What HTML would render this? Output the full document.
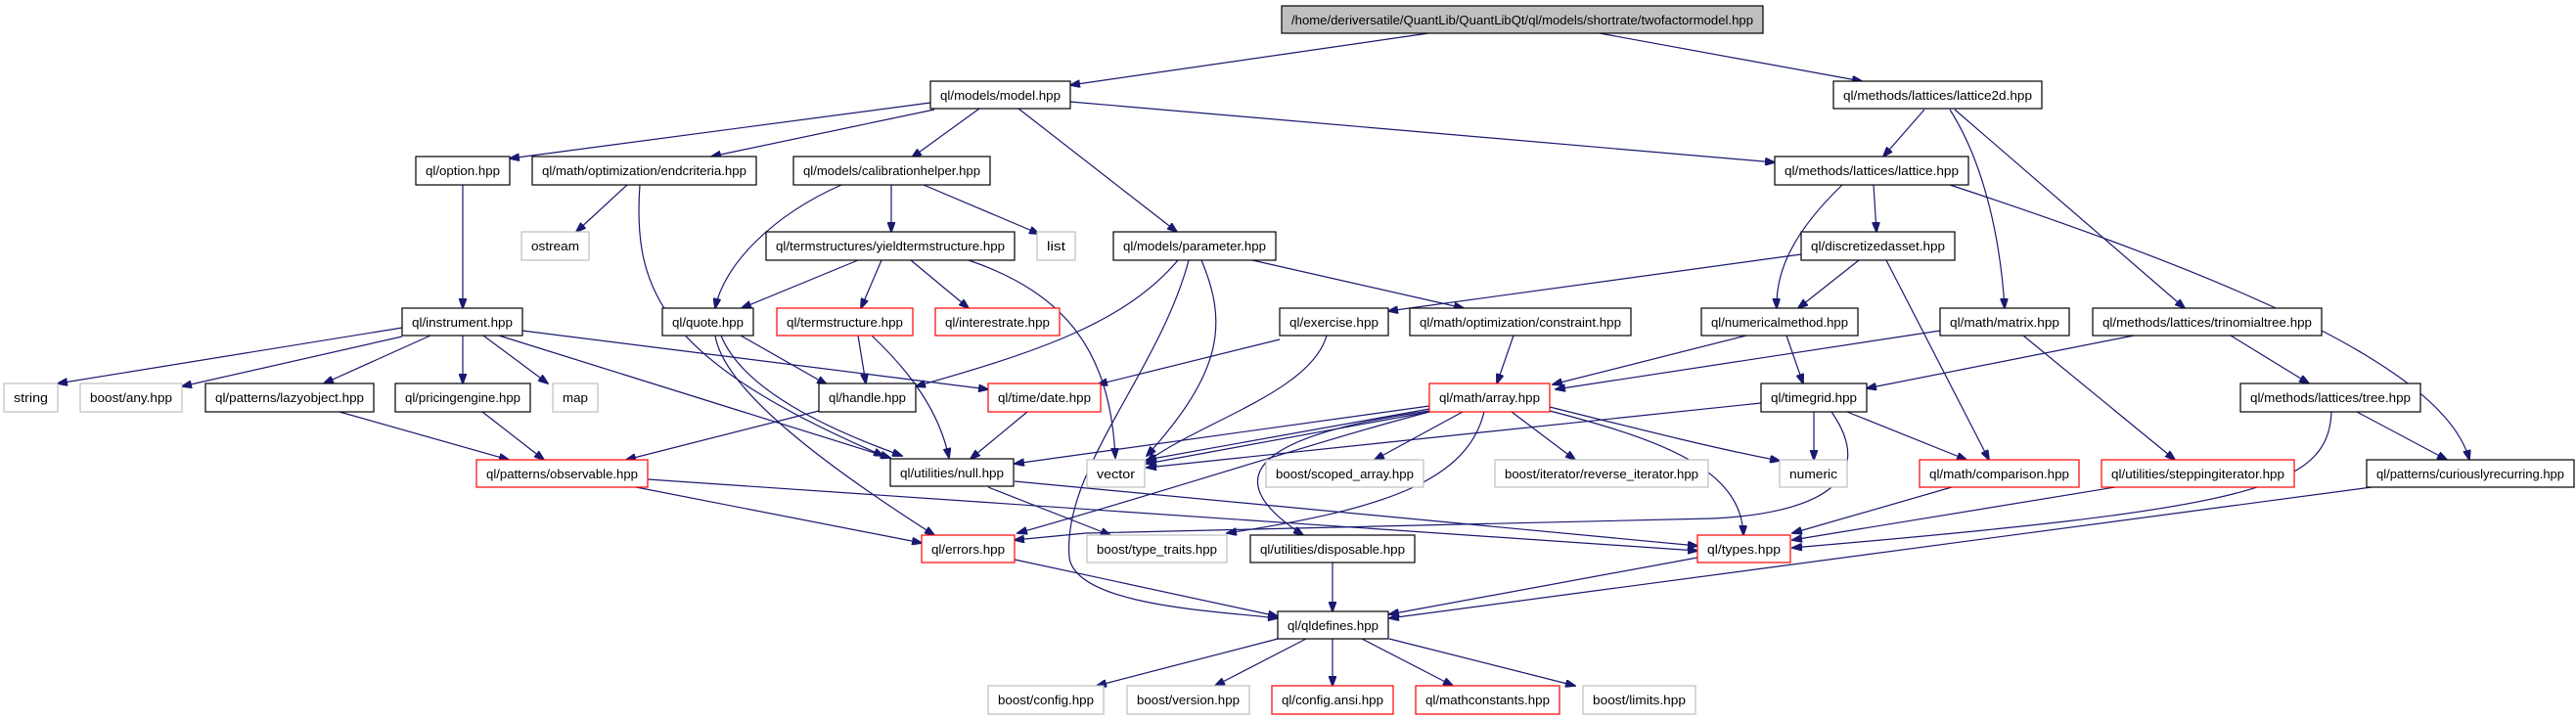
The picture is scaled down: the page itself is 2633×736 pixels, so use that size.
<!DOCTYPE html>
<html><head><meta charset="utf-8"><style>
html,body{margin:0;padding:0;background:#fff;}
svg{display:block;}
text{font-family:"Liberation Sans",Arial,sans-serif;font-size:13px;fill:#000;}
.e{fill:none;stroke:#191970;stroke-width:1.2;}
.n{fill:#fff;stroke:#000;stroke-width:1.2;}
.r{fill:#fff;stroke:#ff0000;stroke-width:1.2;}
.g{fill:#fff;stroke:#bfbfbf;stroke-width:1.2;}
</style></head><body>
<svg width="2633" height="736" viewBox="0 0 2633 736" xmlns="http://www.w3.org/2000/svg">
<defs><marker id="a" markerWidth="11" markerHeight="8" refX="10" refY="4" orient="auto" markerUnits="userSpaceOnUse"><path d="M0,0L11,4L0,8z" fill="#191970" stroke="#191970"/></marker></defs>
<g class="e" marker-end="url(#a)">
<path d="M1460,34L1094,87"/>
<path d="M1635,34L1903,83"/>
<path d="M951,105L521,162"/>
<path d="M955,112L727,160"/>
<path d="M1001,111L932,161"/>
<path d="M1041,111L1203,237"/>
<path d="M1094,104L1814,166"/>
<path d="M1967,112L1925,160"/>
<path d="M1993,112C2030,170 2045,250 2049,315"/>
<path d="M1998,112L2233,315"/>
<path d="M473,189L473,315"/>
<path d="M641,189L589,237"/>
<path d="M654,189C646,300 680,370 903,466"/>
<path d="M860,189C790,220 740,270 731,315"/>
<path d="M911,189L911,237"/>
<path d="M944,189L1062,239"/>
<path d="M877,266L758,315"/>
<path d="M901,266L880,315"/>
<path d="M931,266L990,315"/>
<path d="M990,266C1090,300 1135,360 1140,468"/>
<path d="M1204,266C1150,330 1060,360 936,395"/>
<path d="M1228,266C1255,330 1250,380 1172,466"/>
<path d="M1215,266C1185,380 1085,480 1093,570C1100,620 1250,625 1306,632"/>
<path d="M1280,266L1496,315"/>
<path d="M757,343L845,393"/>
<path d="M731,343C740,400 850,480 955,547"/>
<path d="M737,343C760,400 850,440 922,466"/>
<path d="M837,420L640,470"/>
<path d="M877,343L885,392"/>
<path d="M891,343C930,380 960,420 970,468"/>
<path d="M411,335L59,392"/>
<path d="M411,344L186,395"/>
<path d="M440,343L331,392"/>
<path d="M473,343L473,392"/>
<path d="M494,343L560,392"/>
<path d="M510,343L910,468"/>
<path d="M534,338L1010,398"/>
<path d="M347,421L520,470"/>
<path d="M493,421L556,470"/>
<path d="M662,490L1735,563"/>
<path d="M650,498L942,555"/>
<path d="M1050,421L992,469"/>
<path d="M1308,347L1122,393"/>
<path d="M1356,343C1340,400 1230,430 1172,472"/>
<path d="M1841,260L1419,318"/>
<path d="M1900,266L1838,315"/>
<path d="M1928,266L2033,470"/>
<path d="M1883,189C1830,240 1815,280 1816,315"/>
<path d="M1915,189L1918,237"/>
<path d="M1993,189C2300,290 2500,380 2524,470"/>
<path d="M1547,343L1530,392"/>
<path d="M1785,343L1587,393"/>
<path d="M1826,343L1843,392"/>
<path d="M1983,338L1590,398"/>
<path d="M2068,343L2223,470"/>
<path d="M2181,343L1908,397"/>
<path d="M2280,343L2360,392"/>
<path d="M1800,412L1172,478"/>
<path d="M1854,421L1854,470"/>
<path d="M1888,421L2010,470"/>
<path d="M1872,421C1920,490 1860,525 1750,530L1110,545L1037,552"/>
<path d="M2409,421L2501,470"/>
<path d="M2383,421C2380,500 2300,520 1832,560"/>
<path d="M2424,498L1420,632"/>
<path d="M1995,498L1832,545"/>
<path d="M2162,498L1832,552"/>
<path d="M1461,415L1037,474"/>
<path d="M1461,418L1172,470"/>
<path d="M1461,421L1172,474"/>
<path d="M1495,421L1405,470"/>
<path d="M1545,421L1610,470"/>
<path d="M1584,416C1680,440 1760,460 1819,471"/>
<path d="M1584,420C1700,450 1780,480 1782,547"/>
<path d="M1461,421C1350,450 1200,500 1040,545"/>
<path d="M1461,420C1250,450 1260,500 1332,547"/>
<path d="M1517,421C1500,490 1420,520 1254,545"/>
<path d="M1306,653L1121,701"/>
<path d="M1335,653L1242,701"/>
<path d="M1362,653L1362,701"/>
<path d="M1392,653L1485,701"/>
<path d="M1420,653L1610,701"/>
<path d="M1037,572L1306,630"/>
<path d="M1362,575L1362,625"/>
<path d="M1735,570L1420,628"/>
<path d="M1010,498L1135,547"/>
<path d="M1037,492L1735,558"/>
</g>
<g text-anchor="middle">
<rect x="1310" y="6" width="492" height="28" fill="#bfbfbf" stroke="#000" stroke-width="1.2"/><text x="1556" y="25" textLength="472" lengthAdjust="spacingAndGlyphs">/home/deriversatile/QuantLib/QuantLibQt/ql/models/shortrate/twofactormodel.hpp</text>
<rect class="n" x="951" y="83" width="143" height="28"/><text x="1022.5" y="102" textLength="123" lengthAdjust="spacingAndGlyphs">ql/models/model.hpp</text>
<rect class="n" x="1874" y="83" width="213" height="28"/><text x="1980.5" y="102" textLength="193" lengthAdjust="spacingAndGlyphs">ql/methods/lattices/lattice2d.hpp</text>
<rect class="n" x="425" y="160" width="96" height="29"/><text x="473" y="179" textLength="76" lengthAdjust="spacingAndGlyphs">ql/option.hpp</text>
<rect class="n" x="544" y="160" width="229" height="29"/><text x="658.5" y="179" textLength="209" lengthAdjust="spacingAndGlyphs">ql/math/optimization/endcriteria.hpp</text>
<rect class="n" x="811" y="160" width="201" height="29"/><text x="911.5" y="179" textLength="181" lengthAdjust="spacingAndGlyphs">ql/models/calibrationhelper.hpp</text>
<rect class="n" x="1814" y="160" width="198" height="29"/><text x="1913" y="179" textLength="178" lengthAdjust="spacingAndGlyphs">ql/methods/lattices/lattice.hpp</text>
<rect class="g" x="533" y="237" width="69" height="29"/><text x="567.5" y="256" textLength="49" lengthAdjust="spacingAndGlyphs">ostream</text>
<rect class="n" x="783" y="237" width="254" height="29"/><text x="910" y="256" textLength="234" lengthAdjust="spacingAndGlyphs">ql/termstructures/yieldtermstructure.hpp</text>
<rect class="g" x="1060" y="237" width="39" height="29"/><text x="1079.5" y="256" textLength="19" lengthAdjust="spacingAndGlyphs">list</text>
<rect class="n" x="1138" y="237" width="166" height="29"/><text x="1221" y="256" textLength="146" lengthAdjust="spacingAndGlyphs">ql/models/parameter.hpp</text>
<rect class="n" x="1841" y="237" width="157" height="29"/><text x="1919.5" y="256" textLength="137" lengthAdjust="spacingAndGlyphs">ql/discretizedasset.hpp</text>
<rect class="n" x="411" y="315" width="123" height="28"/><text x="472.5" y="334" textLength="103" lengthAdjust="spacingAndGlyphs">ql/instrument.hpp</text>
<rect class="n" x="677" y="315" width="93" height="28"/><text x="723.5" y="334" textLength="73" lengthAdjust="spacingAndGlyphs">ql/quote.hpp</text>
<rect class="r" x="794" y="315" width="139" height="28"/><text x="863.5" y="334" textLength="119" lengthAdjust="spacingAndGlyphs">ql/termstructure.hpp</text>
<rect class="r" x="956" y="315" width="127" height="28"/><text x="1019.5" y="334" textLength="107" lengthAdjust="spacingAndGlyphs">ql/interestrate.hpp</text>
<rect class="n" x="1308" y="315" width="111" height="28"/><text x="1363.5" y="334" textLength="91" lengthAdjust="spacingAndGlyphs">ql/exercise.hpp</text>
<rect class="n" x="1441" y="315" width="226" height="28"/><text x="1554" y="334" textLength="206" lengthAdjust="spacingAndGlyphs">ql/math/optimization/constraint.hpp</text>
<rect class="n" x="1739" y="315" width="160" height="28"/><text x="1819" y="334" textLength="140" lengthAdjust="spacingAndGlyphs">ql/numericalmethod.hpp</text>
<rect class="n" x="1983" y="315" width="132" height="28"/><text x="2049" y="334" textLength="112" lengthAdjust="spacingAndGlyphs">ql/math/matrix.hpp</text>
<rect class="n" x="2139" y="315" width="234" height="28"/><text x="2256" y="334" textLength="214" lengthAdjust="spacingAndGlyphs">ql/methods/lattices/trinomialtree.hpp</text>
<rect class="g" x="4" y="392" width="55" height="29"/><text x="31.5" y="411" textLength="35" lengthAdjust="spacingAndGlyphs">string</text>
<rect class="g" x="82" y="392" width="104" height="29"/><text x="134" y="411" textLength="84" lengthAdjust="spacingAndGlyphs">boost/any.hpp</text>
<rect class="n" x="210" y="392" width="172" height="29"/><text x="296" y="411" textLength="152" lengthAdjust="spacingAndGlyphs">ql/patterns/lazyobject.hpp</text>
<rect class="n" x="404" y="392" width="138" height="29"/><text x="473" y="411" textLength="118" lengthAdjust="spacingAndGlyphs">ql/pricingengine.hpp</text>
<rect class="g" x="565" y="392" width="46" height="29"/><text x="588" y="411" textLength="26" lengthAdjust="spacingAndGlyphs">map</text>
<rect class="n" x="837" y="392" width="99" height="29"/><text x="886.5" y="411" textLength="79" lengthAdjust="spacingAndGlyphs">ql/handle.hpp</text>
<rect class="r" x="1010" y="392" width="115" height="29"/><text x="1067.5" y="411" textLength="95" lengthAdjust="spacingAndGlyphs">ql/time/date.hpp</text>
<rect class="r" x="1461" y="392" width="123" height="29"/><text x="1522.5" y="411" textLength="103" lengthAdjust="spacingAndGlyphs">ql/math/array.hpp</text>
<rect class="n" x="1800" y="392" width="108" height="29"/><text x="1854" y="411" textLength="88" lengthAdjust="spacingAndGlyphs">ql/timegrid.hpp</text>
<rect class="n" x="2290" y="392" width="184" height="29"/><text x="2382" y="411" textLength="164" lengthAdjust="spacingAndGlyphs">ql/methods/lattices/tree.hpp</text>
<rect class="r" x="487" y="470" width="175" height="28"/><text x="574.5" y="489" textLength="155" lengthAdjust="spacingAndGlyphs">ql/patterns/observable.hpp</text>
<rect class="n" x="910" y="469" width="126" height="28"/><text x="973" y="488" textLength="106" lengthAdjust="spacingAndGlyphs">ql/utilities/null.hpp</text>
<rect class="g" x="1111" y="470" width="59" height="28"/><text x="1140.5" y="489" textLength="39" lengthAdjust="spacingAndGlyphs">vector</text>
<rect class="g" x="1294" y="470" width="161" height="28"/><text x="1374.5" y="489" textLength="141" lengthAdjust="spacingAndGlyphs">boost/scoped_array.hpp</text>
<rect class="g" x="1528" y="470" width="218" height="28"/><text x="1637" y="489" textLength="198" lengthAdjust="spacingAndGlyphs">boost/iterator/reverse_iterator.hpp</text>
<rect class="g" x="1819" y="470" width="69" height="28"/><text x="1853.5" y="489" textLength="49" lengthAdjust="spacingAndGlyphs">numeric</text>
<rect class="r" x="1962" y="470" width="163" height="28"/><text x="2043.5" y="489" textLength="143" lengthAdjust="spacingAndGlyphs">ql/math/comparison.hpp</text>
<rect class="r" x="2148" y="470" width="197" height="28"/><text x="2246.5" y="489" textLength="177" lengthAdjust="spacingAndGlyphs">ql/utilities/steppingiterator.hpp</text>
<rect class="n" x="2419" y="470" width="212" height="28"/><text x="2525" y="489" textLength="192" lengthAdjust="spacingAndGlyphs">ql/patterns/curiouslyrecurring.hpp</text>
<rect class="r" x="942" y="547" width="95" height="28"/><text x="989.5" y="566" textLength="75" lengthAdjust="spacingAndGlyphs">ql/errors.hpp</text>
<rect class="g" x="1111" y="547" width="143" height="28"/><text x="1182.5" y="566" textLength="123" lengthAdjust="spacingAndGlyphs">boost/type_traits.hpp</text>
<rect class="n" x="1278" y="547" width="168" height="28"/><text x="1362" y="566" textLength="148" lengthAdjust="spacingAndGlyphs">ql/utilities/disposable.hpp</text>
<rect class="r" x="1735" y="547" width="95" height="28"/><text x="1782.5" y="566" textLength="75" lengthAdjust="spacingAndGlyphs">ql/types.hpp</text>
<rect class="n" x="1306" y="625" width="113" height="28"/><text x="1362.5" y="644" textLength="93" lengthAdjust="spacingAndGlyphs">ql/qldefines.hpp</text>
<rect class="g" x="1010" y="701" width="118" height="29"/><text x="1069" y="720" textLength="98" lengthAdjust="spacingAndGlyphs">boost/config.hpp</text>
<rect class="g" x="1152" y="701" width="125" height="29"/><text x="1214.5" y="720" textLength="105" lengthAdjust="spacingAndGlyphs">boost/version.hpp</text>
<rect class="r" x="1300" y="701" width="124" height="29"/><text x="1362" y="720" textLength="104" lengthAdjust="spacingAndGlyphs">ql/config.ansi.hpp</text>
<rect class="r" x="1447" y="701" width="147" height="29"/><text x="1520.5" y="720" textLength="127" lengthAdjust="spacingAndGlyphs">ql/mathconstants.hpp</text>
<rect class="g" x="1618" y="701" width="115" height="29"/><text x="1675.5" y="720" textLength="95" lengthAdjust="spacingAndGlyphs">boost/limits.hpp</text>
</g>
</svg>
</body></html>
